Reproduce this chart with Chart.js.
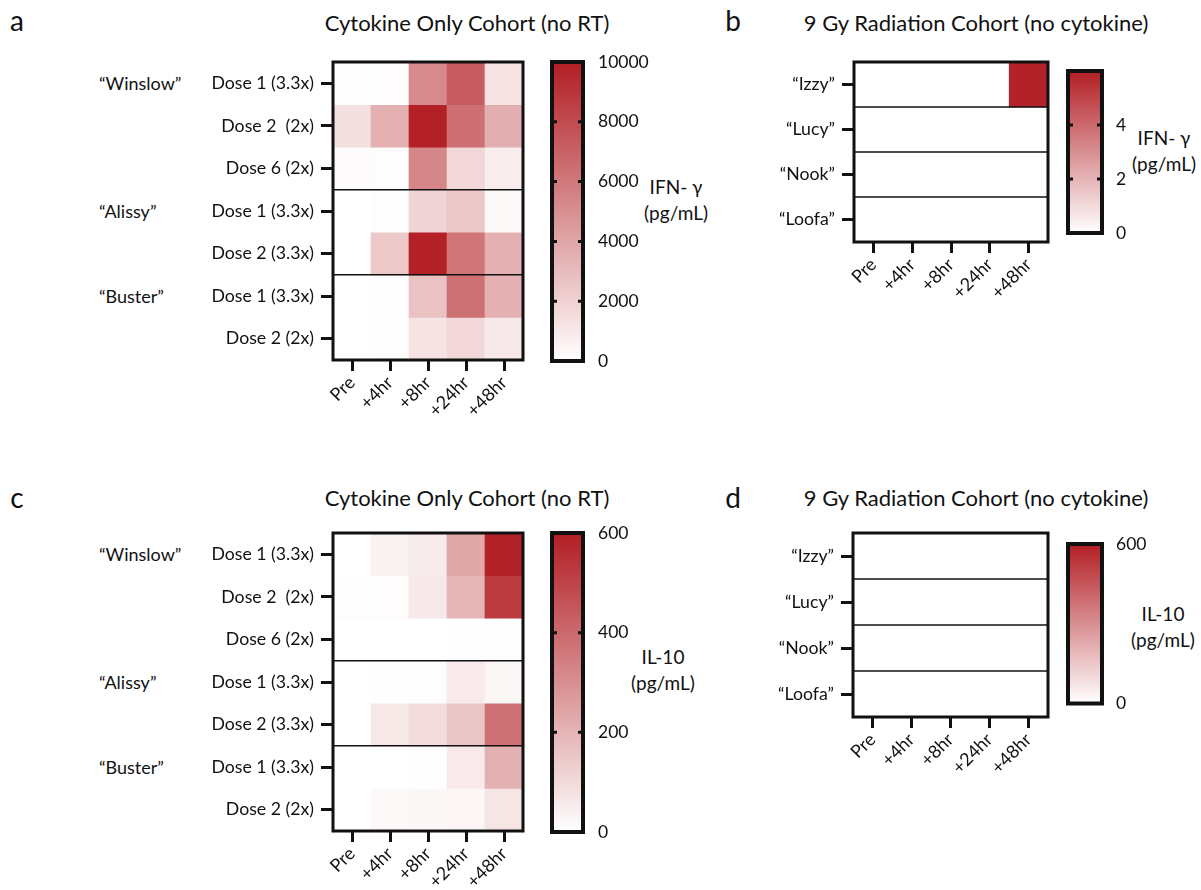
<!DOCTYPE html>
<html>
<head>
<meta charset="utf-8">
<script src="https://cdn.jsdelivr.net/npm/chart.js@4.4.1/dist/chart.umd.min.js"></script>
<style>
  body { margin: 0; background: #fff; }
  #page { position: relative; width: 1201px; height: 890px; overflow: hidden; font-family: Lato, sans-serif; color: #111; }
  #page canvas { position: absolute; }
  .t { position: absolute; white-space: nowrap; transform: translate(-50%, -50%); text-align: center; }
  .letter { font-size: 28px; }
  .title { font-size: 22px; }
  .lab { font-size: 19px; line-height: 26px; }
  .dog { position: absolute; white-space: nowrap; transform: translateY(-50%); font-size: 18px; }
</style>
</head>
<body>
<div id="page">
  <div class="t letter" style="left:17px; top:20px;">a</div>
  <div class="t title" style="left:467px; top:22px;">Cytokine Only Cohort (no RT)</div>
  <div class="t letter" style="left:733px; top:20px;">b</div>
  <div class="t title" style="left:976px; top:22px;">9 Gy Radiation Cohort (no cytokine)</div>
  <div class="t letter" style="left:17px; top:497px;">c</div>
  <div class="t title" style="left:467px; top:497px;">Cytokine Only Cohort (no RT)</div>
  <div class="t letter" style="left:733px; top:497px;">d</div>
  <div class="t title" style="left:976px; top:497px;">9 Gy Radiation Cohort (no cytokine)</div>

  <div class="dog" style="left:99px; top:83px;">“Winslow”</div>
  <div class="dog" style="left:99px; top:211px;">“Alissy”</div>
  <div class="dog" style="left:99px; top:296px;">“Buster”</div>
  <div class="dog" style="left:99px; top:554px;">“Winslow”</div>
  <div class="dog" style="left:99px; top:682px;">“Alissy”</div>
  <div class="dog" style="left:99px; top:767px;">“Buster”</div>

  <div class="t lab" style="left:676px; top:200px;">IFN- γ<br>(pg/mL)</div>
  <div class="t lab" style="left:1164px; top:151px;">IFN- γ<br>(pg/mL)</div>
  <div class="t lab" style="left:663px; top:670px;">IL-10<br>(pg/mL)</div>
  <div class="t lab" style="left:1163px; top:627px;">IL-10<br>(pg/mL)</div>

  <canvas id="heatA" width="340" height="378" style="left:200px; top:40px;"></canvas>
  <canvas id="barA" width="120" height="340" style="left:545px; top:40px;"></canvas>
  <canvas id="heatB" width="300" height="270" style="left:760px; top:40px;"></canvas>
  <canvas id="barB" width="100" height="200" style="left:1060px; top:50px;"></canvas>
  <canvas id="heatC" width="340" height="378" style="left:200px; top:511px;"></canvas>
  <canvas id="barC" width="120" height="340" style="left:545px; top:511px;"></canvas>
  <canvas id="heatD" width="300" height="270" style="left:760px; top:511px;"></canvas>
  <canvas id="barD" width="100" height="200" style="left:1060px; top:520px;"></canvas>
</div>
<script>
// time points (columns)
const timePoints = ['Pre', '+4hr', '+8hr', '+24hr', '+48hr'];

// rows of the cytokine cohort, grouped by dog
const cytokineDoses = ['Dose 1 (3.3x)', 'Dose 2  (2x)', 'Dose 6 (2x)', 'Dose 1 (3.3x)', 'Dose 2 (3.3x)', 'Dose 1 (3.3x)', 'Dose 2 (2x)'];
const cytokineGroupSizes = [3, 2, 2];
const radiationDogs = ['“Izzy”', '“Lucy”', '“Nook”', '“Loofa”'];

// IFN-γ (pg/mL), cytokine cohort
const ifnCytokine = [
  [100, 150, 5200, 7200, 1200],
  [1400, 3500, 9900, 6400, 3600],
  [200, 100, 5400, 1800, 850],
  [0, 100, 1900, 2500, 300],
  [0, 2400, 9900, 6100, 3500],
  [0, 50, 2700, 6300, 3500],
  [0, 50, 1200, 1800, 1000],
];
// IFN-γ (pg/mL), radiation cohort
const ifnRadiation = [
  [0, 0, 0, 0, 5.9],
  [0, 0, 0, 0, 0],
  [0, 0, 0, 0, 0],
  [0, 0, 0, 0, 0],
];
// IL-10 (pg/mL), cytokine cohort
const il10Cytokine = [
  [0, 37, 54, 233, 590],
  [5, 8, 59, 198, 522],
  [0, 0, 0, 3, 5],
  [0, 4, 6, 56, 22],
  [0, 62, 94, 153, 378],
  [0, 0, 3, 55, 209],
  [0, 16, 22, 24, 70],
];
// IL-10 (pg/mL), radiation cohort
const il10Radiation = [
  [0, 0, 0, 0, 0],
  [0, 0, 0, 0, 0],
  [0, 0, 0, 0, 0],
  [0, 0, 0, 0, 0],
];

// colour scale ranges and their tick labels
const ifnCytokineMax = 10000;
const ifnCytokineTicks = [0, 2000, 4000, 6000, 8000, 10000];
const ifnRadiationMax = 6;
const ifnRadiationTicks = [0, 2, 4];
const il10Max = 600;
const il10CytokineTicks = [0, 200, 400, 600];
const il10RadiationTicks = [0, 600];

Chart.defaults.font.family = 'Lato, sans-serif';
Chart.defaults.color = '#111';

const RED = [178, 30, 36];
const shade = (v, max) => {
  const f = Math.min(Math.max(v / max, 0), 1);
  return 'rgb(' + RED.map((c) => Math.round(255 + (c - 255) * f)).join(',') + ')';
};

// box around plot, separator lines, small inner marks on colour bars
const frame = {
  id: 'frame',
  afterDatasetsDraw(chart, args, opts) {
    const { ctx, chartArea: a, scales } = chart;
    ctx.save();
    ctx.strokeStyle = '#111';
    (opts.lines || []).forEach((v) => {
      const py = scales.y.getPixelForValue(v);
      ctx.lineWidth = 1.5;
      ctx.beginPath();
      ctx.moveTo(a.left, py);
      ctx.lineTo(a.right, py);
      ctx.stroke();
    });
    if (opts.marks) {
      ctx.lineWidth = 3;
      scales.y.ticks.forEach((t) => {
        const py = scales.y.getPixelForValue(t.value);
        ctx.beginPath();
        ctx.moveTo(a.left, py);
        ctx.lineTo(a.left + 5, py);
        ctx.moveTo(a.right - 5, py);
        ctx.lineTo(a.right, py);
        ctx.stroke();
      });
    }
    ctx.lineWidth = opts.width;
    ctx.strokeRect(a.left, a.top, a.width, a.height);
    ctx.restore();
  },
};

const yGrid = { drawOnChartArea: false, tickLength: 12, tickWidth: 3, tickColor: '#111', offset: false };
const xGrid = { drawOnChartArea: false, tickLength: 11, tickWidth: 3, tickColor: '#111', offset: false };

function heatmap(id, rows, values, max, lines, yWidth, xHeight, pad) {
  return new Chart(document.getElementById(id), {
    type: 'bar',
    data: {
      labels: timePoints,
      datasets: rows.map((r, i) => ({
        label: r,
        data: timePoints.map(() => 1),
        backgroundColor: values[i].map((v) => shade(v, max)),
        stack: 'cells',
        barPercentage: 1,
        categoryPercentage: 1,
        borderWidth: 0,
      })),
    },
    options: {
      responsive: false,
      animation: false,
      layout: { padding: pad },
      plugins: { legend: { display: false }, tooltip: { enabled: false }, frame: { lines, width: 3 } },
      scales: {
        x: {
          stacked: true,
          ticks: { maxRotation: 45, minRotation: 45, font: { size: 18 }, padding: 1 },
          grid: xGrid,
          border: { display: false },
          afterFit: (s) => { s.height = xHeight; },
        },
        y: {
          stacked: true,
          reverse: true,
          min: 0,
          max: rows.length,
          afterBuildTicks: (ax) => { ax.ticks = rows.map((_, i) => ({ value: i + 0.5 })); },
          ticks: { callback: (v, i) => rows[i], font: { size: 17.7 }, padding: 7, autoSkip: false },
          grid: yGrid,
          border: { display: false },
          afterFit: (s) => { s.width = yWidth; },
        },
      },
    },
    plugins: [frame],
  });
}

function colorbar(id, max, ticks, axisWidth, pad, gap) {
  return new Chart(document.getElementById(id), {
    type: 'bar',
    data: {
      labels: [''],
      datasets: [{
        data: [[0, max]],
        backgroundColor: (c) => {
          const a = c.chart.chartArea;
          if (!a) return shade(max / 2, max);
          const g = c.chart.ctx.createLinearGradient(0, a.bottom, 0, a.top);
          g.addColorStop(0, shade(0, max));
          g.addColorStop(1, shade(max, max));
          return g;
        },
        barPercentage: 1,
        categoryPercentage: 1,
        borderWidth: 0,
      }],
    },
    options: {
      responsive: false,
      animation: false,
      layout: { padding: pad },
      plugins: { legend: { display: false }, tooltip: { enabled: false }, frame: { width: 4, marks: true } },
      scales: {
        x: { display: false },
        y: {
          position: 'right',
          min: 0,
          max: max,
          afterBuildTicks: (ax) => { ax.ticks = ticks.map((v) => ({ value: v })); },
          ticks: { callback: (v) => String(v), font: { size: 17.5 }, padding: gap },
          grid: { display: false },
          border: { display: false },
          afterFit: (s) => { s.width = axisWidth; },
        },
      },
    },
    plugins: [frame],
  });
}

// separator lines at group boundaries
const groupLines = (sizes) => sizes.slice(0, -1).map((s, i) => sizes.slice(0, i + 1).reduce((a, b) => a + b, 0));
const cytokineLines = groupLines(cytokineGroupSizes);
const radiationLines = groupLines(radiationDogs.map(() => 1));

heatmap('heatA', cytokineDoses, ifnCytokine, ifnCytokineMax, cytokineLines, 133, 58, { top: 22, right: 17 });
colorbar('barA', ifnCytokineMax, ifnCytokineTicks, 82, { left: 7, top: 22, bottom: 19 }, 7);
heatmap('heatB', radiationDogs, ifnRadiation, ifnRadiationMax, radiationLines, 94, 68, { top: 22, right: 12 });
colorbar('barB', ifnRadiationMax, ifnRadiationTicks, 58, { left: 8, top: 21, bottom: 17 }, 6);
heatmap('heatC', cytokineDoses, il10Cytokine, il10Max, cytokineLines, 133, 58, { top: 22, right: 17 });
colorbar('barC', il10Max, il10CytokineTicks, 82, { left: 7, top: 22, bottom: 19 }, 7);
heatmap('heatD', radiationDogs, il10Radiation, il10Max, radiationLines, 93, 64, { top: 22, right: 12 });
colorbar('barD', il10Max, il10RadiationTicks, 58, { left: 8, top: 24, bottom: 16 }, 6);
</script>
</body>
</html>
